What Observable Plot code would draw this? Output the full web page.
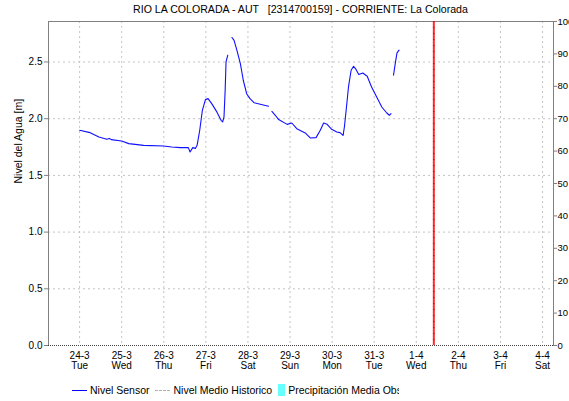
<!DOCTYPE html>
<html>
<head>
<meta charset="utf-8">
<script src="https://cdn.jsdelivr.net/npm/d3@7"></script>
<script src="https://cdn.jsdelivr.net/npm/@observablehq/plot@0.6"></script>
<style>
  body { margin: 0; background: #fff; }
  #wrap { position: relative; width: 569px; height: 401px; overflow: hidden; font-family: "Liberation Sans", Arial, sans-serif; }
  #title { position: absolute; top: 3px; left: 48px; width: 505px; text-align: center; font-size: 10.6px; color: #000; white-space: pre; }
  #legend { position: absolute; top: 383px; left: 72px; height: 14px; font-size: 10.5px; color: #000; display: flex; align-items: center; white-space: nowrap; }
  .sw-line { display: inline-block; width: 15px; height: 0; border-top: 1.5px solid #0000ff; margin-right: 3px; }
  .sw-dash { display: inline-block; width: 15px; height: 0; border-top: 1px dashed #b0b0b0; margin-left: 5px; margin-right: 4px; }
  .sw-rect { display: inline-block; width: 7px; height: 12px; background: #66ffff; margin-left: 6px; margin-right: 3px; }
  .clip { display: inline-block; width: 111px; overflow: hidden; }
</style>
</head>
<body>
<div id="wrap">
  <div id="chart"></div>
  <div id="title">RIO LA COLORADA - AUT   [2314700159] - CORRIENTE: La Colorada</div>
  <div id="legend">
    <span class="sw-line"></span><span>Nivel Sensor</span>
    <span class="sw-dash"></span><span>Nivel Medio Historico</span>
    <span class="sw-rect"></span><span class="clip">Precipitación Media Obs</span>
  </div>
</div>
<script>
// ---- data ----
const levelTimes = [
  "2020-03-24T00:00","2020-03-24T06:00","2020-03-24T11:00","2020-03-24T15:30","2020-03-24T17:00","2020-03-24T18:00",
  "2020-03-25T00:00","2020-03-25T04:00","2020-03-25T12:30",
  "2020-03-26T00:00","2020-03-26T04:30","2020-03-26T09:30","2020-03-26T14:00","2020-03-26T15:00","2020-03-26T16:30",
  "2020-03-26T18:00","2020-03-26T19:00","2020-03-26T20:30","2020-03-26T22:00","2020-03-26T23:45",
  "2020-03-27T01:15","2020-03-27T03:20","2020-03-27T06:15","2020-03-27T08:40","2020-03-27T09:35","2020-03-27T10:20",
  "2020-03-27T11:00","2020-03-27T11:30","2020-03-27T12:30",
  "2020-03-27T13:40",
  "2020-03-27T14:53","2020-03-27T16:05","2020-03-27T17:45","2020-03-27T19:40","2020-03-27T21:20","2020-03-27T23:15",
  "2020-03-28T01:10","2020-03-28T03:35","2020-03-28T07:00","2020-03-28T11:45",
  "2020-03-28T12:40",
  "2020-03-28T13:40","2020-03-28T15:35","2020-03-28T17:30","2020-03-28T22:20",
  "2020-03-29T01:00","2020-03-29T03:50","2020-03-29T08:40","2020-03-29T11:30","2020-03-29T14:50","2020-03-29T17:15",
  "2020-03-29T19:10","2020-03-29T21:10","2020-03-29T23:45",
  "2020-03-30T02:40","2020-03-30T04:30","2020-03-30T06:15","2020-03-30T07:00","2020-03-30T08:00","2020-03-30T09:20",
  "2020-03-30T10:50","2020-03-30T12:15","2020-03-30T13:25","2020-03-30T15:10","2020-03-30T17:30","2020-03-30T20:00",
  "2020-03-30T22:30",
  "2020-03-31T01:25","2020-03-31T04:20","2020-03-31T07:10","2020-03-31T08:40","2020-03-31T09:35",
  "2020-03-31T10:20",
  "2020-03-31T11:00","2020-03-31T12:00","2020-03-31T13:00","2020-03-31T14:10"
];
const levelValues = [
  1.898,1.877,1.839,1.818,1.826,1.815,
  1.803,1.780,1.765,
  1.759,1.750,1.745,1.745,1.706,1.745,
  1.738,1.765,1.898,2.074,2.168,
  2.177,2.133,2.060,1.986,1.971,2.015,
  2.250,2.500,2.560,
  NaN,
  2.716,2.690,2.600,2.486,2.339,2.220,
  2.177,2.140,2.127,2.110,
  NaN,
  2.065,2.030,1.992,1.950,
  1.962,1.912,1.874,1.830,1.833,1.898,
  1.962,1.950,1.906,
  1.883,1.877,1.853,1.927,2.074,2.280,
  2.427,2.462,2.440,2.389,2.403,2.374,
  2.280,
  2.192,2.103,2.050,2.030,2.045,
  NaN,
  2.383,2.486,2.580,2.604
];
const nowTime = ["2020-04-01T10:00"];
const dayTicks = ["2020-03-24","2020-03-25","2020-03-26","2020-03-27","2020-03-28","2020-03-29",
                  "2020-03-30","2020-03-31","2020-04-01","2020-04-02","2020-04-03","2020-04-04"];
const dayLabels = ["24-3\nTue","25-3\nWed","26-3\nThu","27-3\nFri","28-3\nSat","29-3\nSun",
                   "30-3\nMon","31-3\nTue","1-4\nWed","2-4\nThu","3-4\nFri","4-4\nSat"];
const leftTicks = [0, 0.5, 1.0, 1.5, 2.0, 2.5];
const rightTicks = [0, 10, 20, 30, 40, 50, 60, 70, 80, 90, 100];
const yMax = 2.857;
const xDomain = ["2020-03-23T06:15", "2020-04-04T06:15"];

// ---- build ----
const utc = s => new Date(s + (s.length === 10 ? "T00:00Z" : "Z"));
const levels = levelTimes.map((t, i) => ({t: utc(t), v: levelValues[i]}));
const ticksX = dayTicks.map(utc);
const labelByTime = new Map(ticksX.map((d, i) => [+d, dayLabels[i]]));
const font = "Liberation Sans, Arial, sans-serif";

const chart = Plot.plot({
  width: 569,
  height: 401,
  marginLeft: 48,
  marginRight: 16,
  marginTop: 21,
  marginBottom: 56,
  style: {fontFamily: font, fontSize: "10px", background: "#fff", color: "#000", overflow: "hidden"},
  x: {type: "utc", domain: xDomain.map(utc)},
  y: {domain: [0, yMax]},
  marks: [
    Plot.gridX(ticksX, {stroke: "#c4c4c4", strokeOpacity: 1, strokeDasharray: "2,3"}),
    Plot.gridY(leftTicks.filter(v => v > 0), {stroke: "#c4c4c4", strokeOpacity: 1, strokeDasharray: "2,3"}),
    Plot.frame({stroke: "#808080"}),
    Plot.ruleY([0], {stroke: "#fff"}),
    Plot.ruleY([0], {stroke: "#404040", strokeDasharray: "1,1"}),
    Plot.line(levels, {x: "t", y: "v", stroke: "#1010ff", strokeWidth: 1.1}),
    Plot.ruleX(nowTime.map(utc), {stroke: "#ff2a2a", strokeWidth: 2}),
    Plot.ruleX(nowTime.map(utc), {stroke: "#b00000", strokeWidth: 1, strokeDasharray: "1,5"}),
    Plot.axisX(ticksX, {
      anchor: "bottom", tickSize: 0, tickPadding: 6,
      tickFormat: d => labelByTime.get(+d), label: null, fontSize: 10
    }),
    Plot.axisY(leftTicks, {
      anchor: "left", tickSize: 4, tickPadding: 2, stroke: "#808080",
      tickFormat: d3.format(".1f"), label: null, fontSize: 10
    }),
    Plot.axisY(rightTicks.map(v => v * yMax / 100), {
      anchor: "right", tickSize: 3, tickPadding: 1, stroke: "#808080",
      tickFormat: d => String(Math.round(d * 100 / yMax)), label: null, fontSize: 9.5
    }),
    Plot.text(["Nivel del Agua [m]"], {
      frameAnchor: "left", dx: -30, rotate: -90, fontSize: 10.5, fill: "#000"
    })
  ]
});
document.getElementById("chart").appendChild(chart);
</script>
</body>
</html>
